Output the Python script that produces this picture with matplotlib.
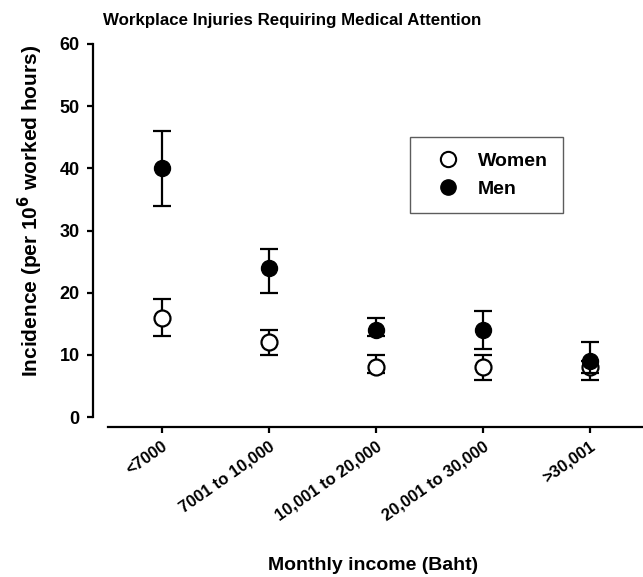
import matplotlib
matplotlib.use("Agg")
import matplotlib.pyplot as plt
import numpy as np
from matplotlib.lines import Line2D

plt.rcParams['font.family'] = ['Liberation Sans', 'DejaVu Sans']

categories = ["<7000", "7001 to 10,000", "10,001 to 20,000", "20,001 to 30,000", ">30,001"]
women = [16, 12, 8, 8, 8]
women_low = [13, 10, 7, 6, 6]
women_high = [19, 14, 10, 10, 9]
men = [40, 24, 14, 14, 9]
men_low = [34, 20, 13, 11, 7]
men_high = [46, 27, 16, 17, 12]
yticks = [0, 10, 20, 30, 40, 50, 60]

fig = plt.figure(figsize=(6.43, 5.77), dpi=100)
ax = fig.add_axes([108/643, 1 - 417/577, 1 - 108/643, (417 - 44)/577])

x = np.arange(len(categories))

def err(v, lo, hi):
    v = np.array(v)
    return [v - np.array(lo), np.array(hi) - v]

ax.errorbar(x, women, yerr=err(women, women_low, women_high), fmt='o', color='black',
            mfc='white', mec='black', ms=11.5, mew=1.6, elinewidth=1.6, capsize=6.5, capthick=1.6,
            zorder=3)
ax.errorbar(x, men, yerr=err(men, men_low, men_high), fmt='o', color='black',
            mfc='black', mec='black', ms=11.5, elinewidth=1.6, capsize=6.5, capthick=1.6,
            zorder=4)

for s in ['top', 'right']:
    ax.spines[s].set_visible(False)
ax.spines['left'].set_position(('outward', 10.8))
ax.spines['bottom'].set_position(('outward', 7.5))
ax.spines['left'].set_linewidth(1.6)
ax.spines['bottom'].set_linewidth(1.6)
ax.tick_params(axis='both', width=1.6, length=4.5, direction='out')
ax.tick_params(axis='y', pad=5)

ax.set_xlim(-0.5, 4.5)
ax.set_ylim(0, 60)
ax.set_yticks(yticks, labels=[str(t) for t in yticks], fontsize=13, fontweight='bold')
ax.set_xticks(x, labels=categories, rotation=35, ha='right', rotation_mode='anchor',
              fontsize=12, fontweight='bold')

ax.set_ylabel(r'Incidence (per 10$^{\mathbf{6}}$ worked hours)', fontsize=15, fontweight='bold')
ax.yaxis.set_label_coords((45 - 108) / 535, (417 - 211) / 373)
ax.set_xlabel('Monthly income (Baht)', fontsize=14, fontweight='bold')
ax.xaxis.set_label_coords((373 - 108) / 535, (417 - 557) / 373)
fig.text(292/643, 1 - 20/577, 'Workplace Injuries Requiring Medical Attention',
         ha='center', va='center', fontsize=12.2, fontweight='bold')

h = [Line2D([], [], ls='none', marker='o', mfc='white', mec='black', ms=11, mew=1.5),
     Line2D([], [], ls='none', marker='o', mfc='black', mec='black', ms=11)]
leg = ax.legend(h, ['Women', 'Men'], loc='upper left',
                bbox_to_anchor=((410 - 108) / 535, (417 - 137) / 373),
                frameon=True, fancybox=False, edgecolor='#333333',
                prop={'weight': 'bold', 'size': 14}, borderpad=0.78, handletextpad=0.4,
                labelspacing=0.55, borderaxespad=0, handlelength=2.3)
leg.get_frame().set_linewidth(1.0)

fig.savefig('out.png', dpi=100)
